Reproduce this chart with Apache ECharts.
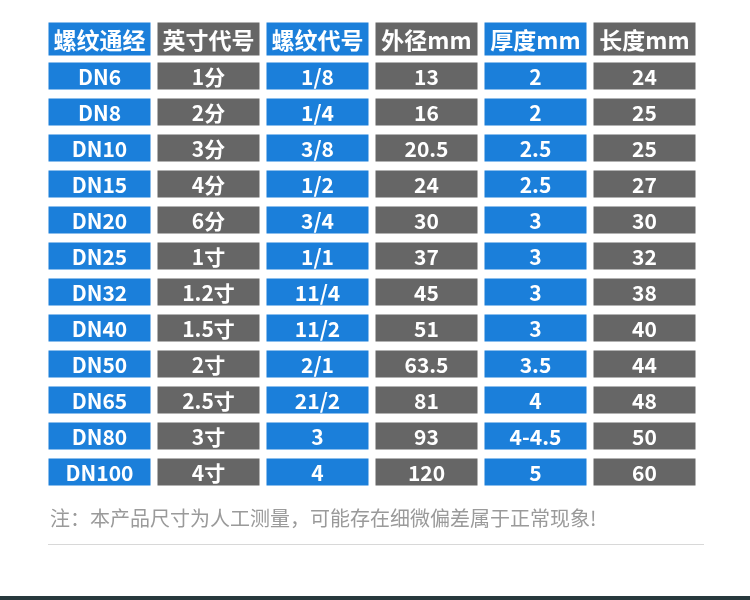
<!DOCTYPE html><html><head><meta charset="utf-8"><script src="https://cdn.jsdelivr.net/npm/echarts@6/dist/echarts.min.js"></script>
<style>html,body{margin:0;background:#fff}#c{width:750px;height:600px}</style></head><body><div id="c"></div><script>
const headers=['螺纹通经','英寸代号','螺纹代号','外径mm','厚度mm','长度mm'];
const dn=['DN6','DN8','DN10','DN15','DN20','DN25','DN32','DN40','DN50','DN65','DN80','DN100'];
const inch=['1分','2分','3分','4分','6分','1寸','1.2寸','1.5寸','2寸','2.5寸','3寸','4寸'];
const thread=['1/8','1/4','3/8','1/2','3/4','1/1','11/4','11/2','2/1','21/2','3','4'];
const od=['13','16','20.5','24','30','37','45','51','63.5','81','93','120'];
const thick=['2','2','2.5','2.5','3','3','3','3','3.5','4','4-4.5','5'];
const len=['24','25','25','27','30','32','38','40','44','48','50','60'];
const cols=[dn,inch,thread,od,thick,len];
const rows=['h'].concat(dn.map((d,i)=>'r'+i));
const data=[];
headers.forEach((h,c)=>data.push([c,0,h]));
cols.forEach((arr,c)=>arr.forEach((v,r)=>data.push([c,r+1,v])));
const chart=echarts.init(document.getElementById('c'));
chart.setOption({animation:false,
grid:{left:45,width:654,top:22,height:468},
xAxis:{type:'category',data:[0,1,2,3,4,5],show:false},
yAxis:{type:'category',data:rows,inverse:true,show:false},
graphic:[
{type:'text',left:50,top:508,style:{text:'注：本产品尺寸为人工测量，可能存在细微偏差属于正常现象!',fill:'#9a9a9a',font:'20px "Noto Sans CJK SC"'}},
{type:'rect',shape:{x:48,y:544,width:656,height:1},style:{fill:'#d8d8d8'}},
{type:'rect',shape:{x:0,y:596,width:750,height:4},style:{fill:'#27393d'}}],
series:[{type:'custom',data:data,renderItem:function(p,api){
 const c=api.value(0),r=api.value(1);const pt=api.coord([c,r]);const s=api.size([1,1]);
 const w=s[0]-7,h=r===0?33:27;const cy=r===0?pt[1]-1:pt[1];
 return {type:'group',children:[
 {type:'rect',shape:{x:pt[0]-w/2,y:cy-h/2,width:w,height:h},style:{fill:c%2===0?'#1b7fda':'#666666'}},
 {type:'text',style:{text:api.value(2),x:pt[0],y:cy+1,align:'center',verticalAlign:'middle',fill:'#fff',font:(r===0?'bold 23px':'bold 21px')+' "Noto Sans CJK SC"'}}]};
}}]});
</script></body></html>
